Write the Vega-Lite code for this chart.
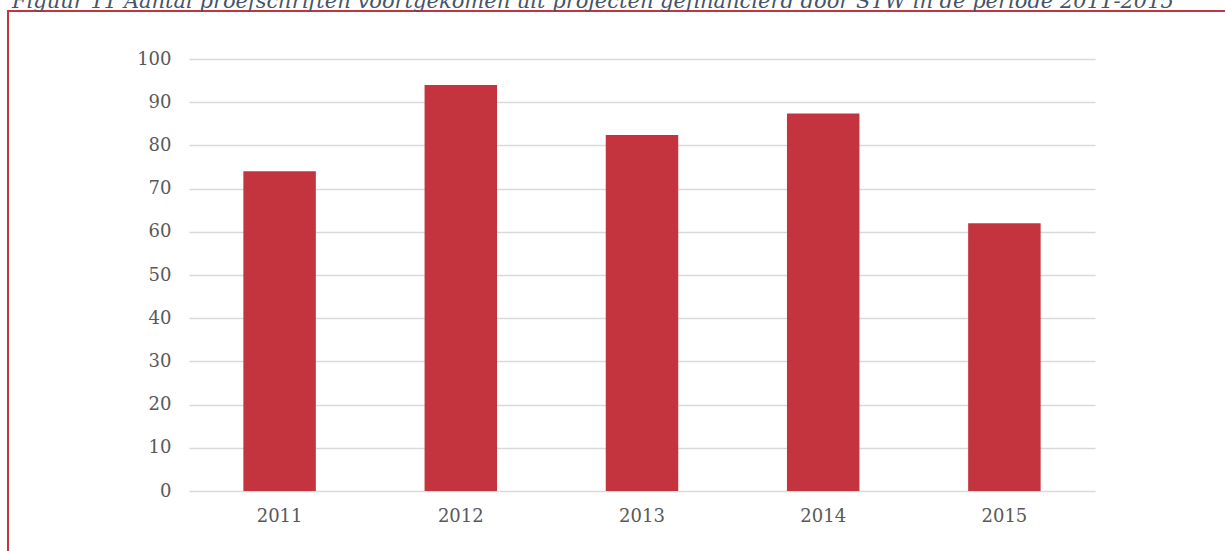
{
  "$schema": "https://vega.github.io/schema/vega-lite/v6.json",
  "width": 1219,
  "height": 542,
  "autosize": {"type": "none"},
  "padding": {"left": 8, "top": 11, "right": -2, "bottom": -2},
  "background": "white",
  "title": {
    "text": "Figuur 11 Aantal proefschriften voortgekomen uit projecten gefinancierd door STW in de periode 2011-2015",
    "anchor": "start",
    "frame": "group",
    "font": "DejaVu Serif",
    "fontSize": 21,
    "fontStyle": "italic",
    "fontWeight": "normal",
    "color": "#44546a",
    "baseline": "alphabetic",
    "offset": 0,
    "dy": 18,
    "dx": 4
  },
  "data": {
    "values": [
      {"jaar": "2011", "aantal": 74},
      {"jaar": "2012", "aantal": 94},
      {"jaar": "2013", "aantal": 82.4},
      {"jaar": "2014", "aantal": 87.4},
      {"jaar": "2015", "aantal": 62}
    ]
  },
  "mark": {"type": "bar", "color": "#c4343f"},
  "encoding": {
    "x": {
      "field": "jaar",
      "type": "nominal",
      "sort": null,
      "scale": {"range": [181, 1087], "paddingInner": 0.6, "paddingOuter": 0.3},
      "axis": {
        "title": null,
        "orient": "bottom",
        "offset": -62,
        "labelPadding": 16,
        "ticks": false,
        "domain": false,
        "grid": false,
        "labelAngle": 0,
        "labelFont": "DejaVu Serif",
        "labelFontSize": 18,
        "labelColor": "#595959"
      }
    },
    "y": {
      "field": "aantal",
      "type": "quantitative",
      "scale": {"domain": [0, 100], "range": [480, 48], "nice": false, "zero": true},
      "axis": {
        "title": null,
        "offset": -181,
        "labelPadding": 18,
        "ticks": false,
        "domain": false,
        "grid": true,
        "gridColor": "#d9d9d9",
        "gridWidth": 1.5,
        "values": [0, 10, 20, 30, 40, 50, 60, 70, 80, 90, 100],
        "labelFont": "DejaVu Serif",
        "labelFontSize": 18,
        "labelColor": "#595959"
      }
    }
  },
  "config": {"view": {"stroke": "#c4343f", "strokeWidth": 2}}
}
